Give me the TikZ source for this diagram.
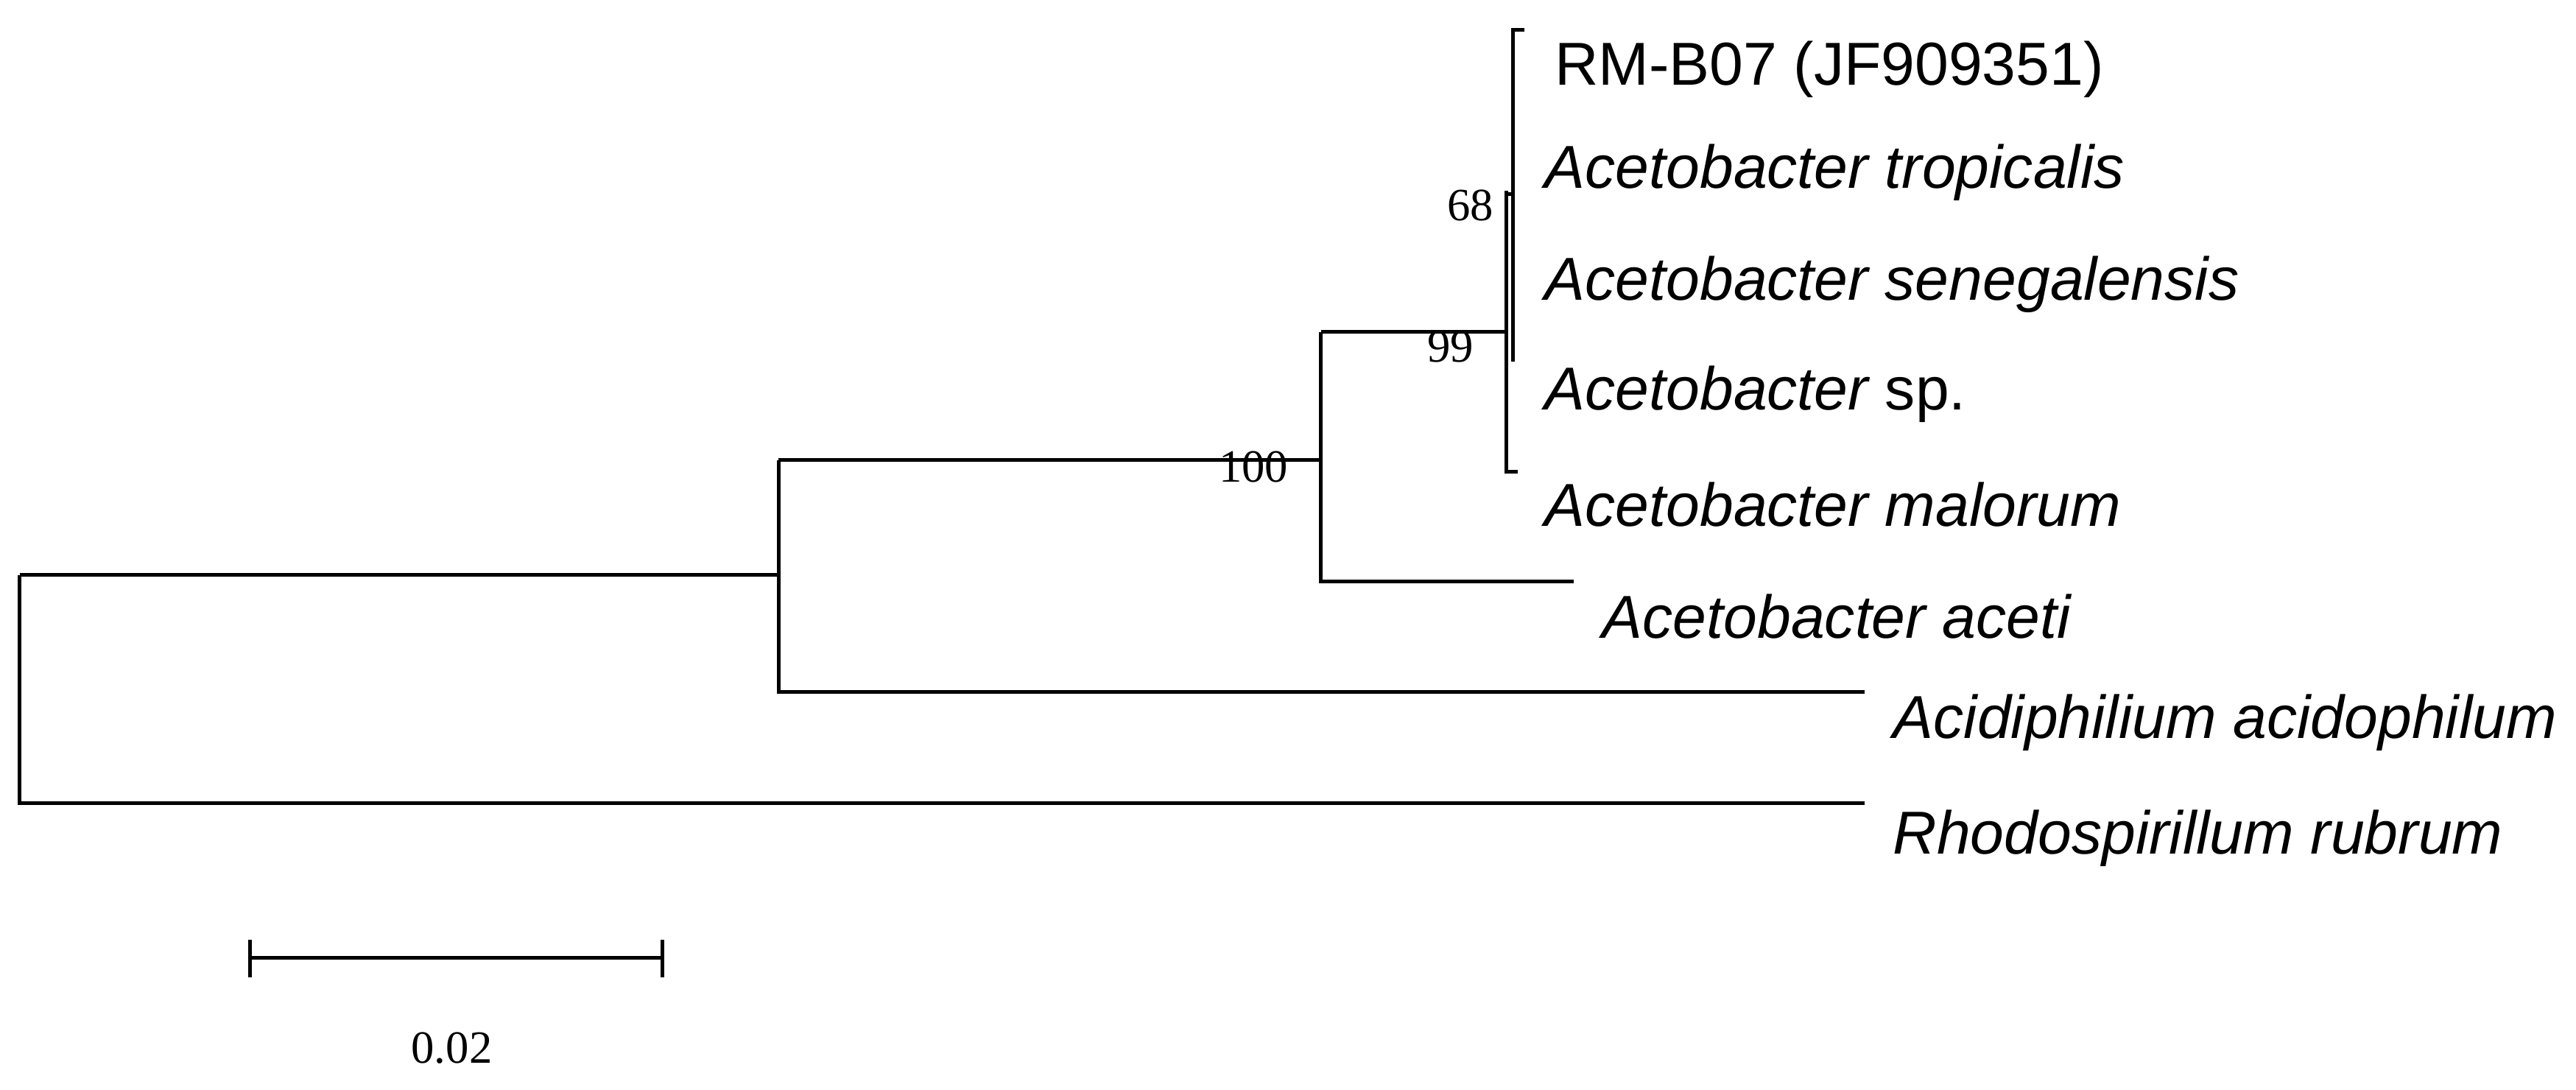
\documentclass[tikz,border=0pt]{standalone}
\usepackage{fontspec}
\setmainfont{Liberation Sans}
\newfontfamily\tnr{Liberation Serif}
\begin{document}
\begin{tikzpicture}[x=0.02cm,y=-0.02cm,
  br/.style={line width=1.3pt},
  lab/.style={anchor=west,inner sep=0pt,font=\fontsize{21}{24}\selectfont},
  bs/.style={inner sep=0pt,font=\tnr\fontsize{16}{18}\selectfont}]
\useasboundingbox (0,0) rectangle (1568,663);
% coordinates
\coordinate (R) at (12,350);
\coordinate (A) at (474,280);
\coordinate (B) at (804,202);
\coordinate (C) at (917,116);
\coordinate (D) at (921,18);
% root
\draw[br] (12,350) |- (474,350);
\draw[br] (12,350) |- (1135,489);
% node A
\draw[br] (474,280) |- (804,280);
\draw[br] (474,280) |- (1135,421);
% node B
\draw[br] (804,202) |- (917,202);
\draw[br] (804,202) |- (958,354);
% node C
\draw[br] (917,116) |- (924,287);
\draw[br] (917,118) -- (921,118);
% node D
\draw[br] (921,220) |- (928,18);
% labels
\node[lab] (t1) at (946,42) {RM-B07 (JF909351)};
\node[lab] (t2) at (940,105) {\itshape Acetobacter tropicalis};
\node[lab] (t3) at (940,173) {\itshape Acetobacter senegalensis};
\node[lab] (t4) at (940,240) {{\itshape Acetobacter} sp.};
\node[lab] (t5) at (940,307) {\itshape Acetobacter malorum};
\node[lab] (t6) at (975,375) {\itshape Acetobacter aceti};
\node[lab] (t7) at (1152,440) {\itshape Acidiphilium acidophilum};
\node[lab] (t8) at (1152,510) {\itshape Rhodospirillum rubrum};
% bootstrap
\node[bs] (b68) at (895,125) {68};
\node[bs] (b99) at (883,211) {99};
\node[bs] (b100) at (763,284) {100};
% scale bar
\coordinate (s1) at (152,583);
\coordinate (s2) at (403,583);
\draw[br] (s1) -- (s2);
\draw[br] (152,572) -- (152,595);
\draw[br] (403,572) -- (403,595);
\node[bs] (sl) at (275,638) {0.02};
\end{tikzpicture}
\end{document}
